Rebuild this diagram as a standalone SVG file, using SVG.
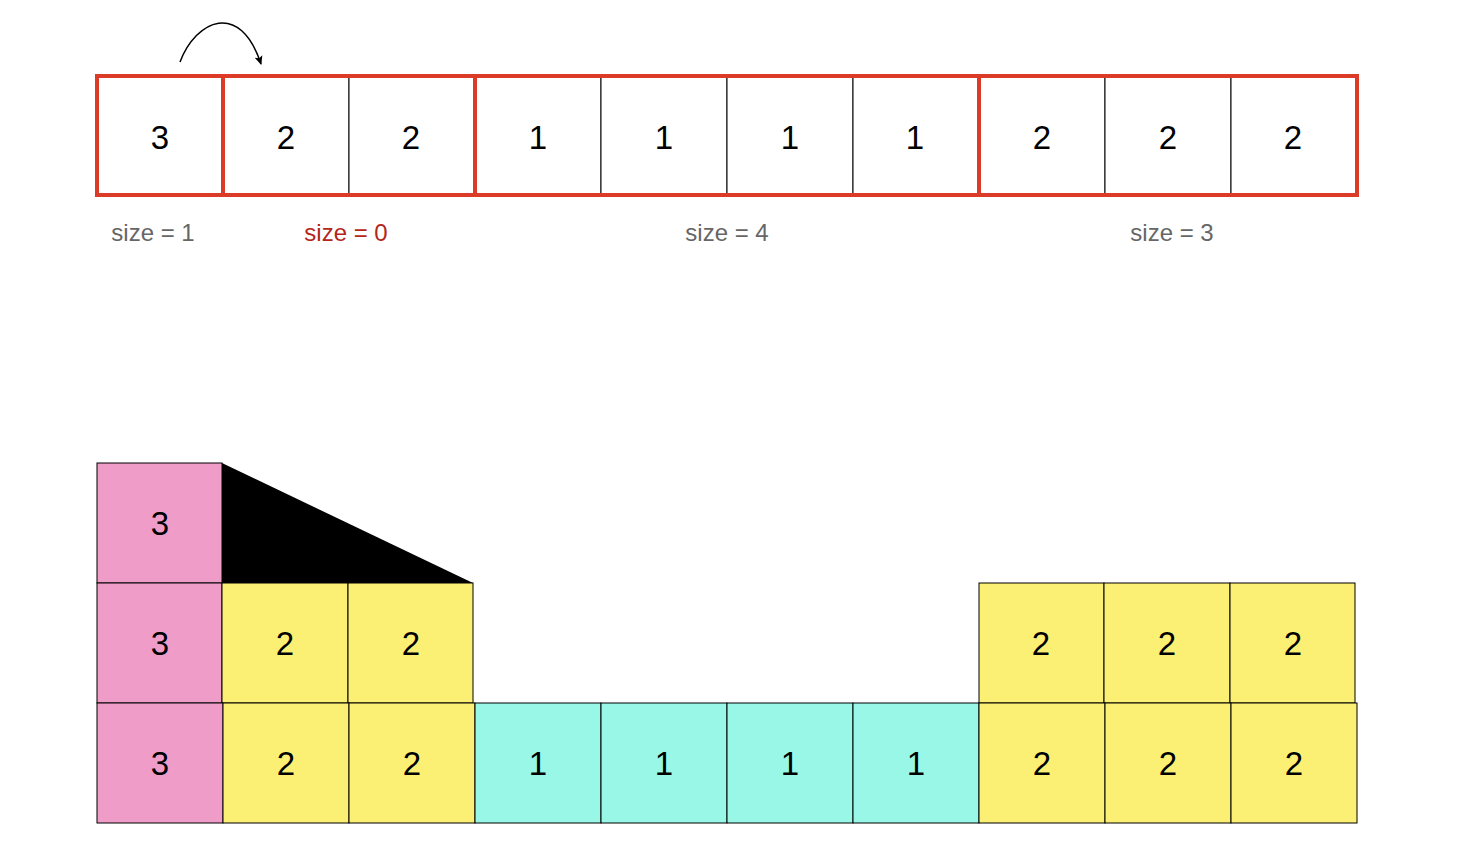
<svg xmlns="http://www.w3.org/2000/svg" width="1476" height="862" viewBox="0 0 1476 862">
<style>
.cell{fill:#ffffff;stroke:#000;stroke-width:1}
.grp{fill:none;stroke:#db3b27;stroke-width:4}
.pink{fill:#f09cc8;stroke:#000;stroke-width:1}
.yel{fill:#fbf073;stroke:#000;stroke-width:1}
.cyan{fill:#99f7e8;stroke:#000;stroke-width:1}
.num{font-family:"Liberation Sans",Arial,sans-serif;font-size:33px;fill:#000;text-anchor:middle;dominant-baseline:central}
.lbl{font-family:"Liberation Sans",Arial,sans-serif;font-size:24px;fill:#666;text-anchor:middle;dominant-baseline:central}
.red{fill:#b3261a}
</style>
<defs>
<marker id="ah" markerWidth="10" markerHeight="10" refX="8" refY="5" orient="auto" markerUnits="userSpaceOnUse">
<path d="M0,1 L9,5 L0,9 L2,5 Z" fill="#000"/>
</marker>
</defs>
<g id="top-cells">
<g id="t0"><rect class="cell" x="97" y="76" width="126" height="119"/><text class="num" x="160" y="137">3</text></g>
<g id="t1"><rect class="cell" x="223" y="76" width="126" height="119"/><text class="num" x="286" y="137">2</text></g>
<g id="t2"><rect class="cell" x="349" y="76" width="126" height="119"/><text class="num" x="411" y="137">2</text></g>
<g id="t3"><rect class="cell" x="475" y="76" width="126" height="119"/><text class="num" x="538" y="137">1</text></g>
<g id="t4"><rect class="cell" x="601" y="76" width="126" height="119"/><text class="num" x="664" y="137">1</text></g>
<g id="t5"><rect class="cell" x="727" y="76" width="126" height="119"/><text class="num" x="790" y="137">1</text></g>
<g id="t6"><rect class="cell" x="853" y="76" width="126" height="119"/><text class="num" x="915" y="137">1</text></g>
<g id="t7"><rect class="cell" x="979" y="76" width="126" height="119"/><text class="num" x="1042" y="137">2</text></g>
<g id="t8"><rect class="cell" x="1105" y="76" width="126" height="119"/><text class="num" x="1168" y="137">2</text></g>
<g id="t9"><rect class="cell" x="1231" y="76" width="126" height="119"/><text class="num" x="1293" y="137">2</text></g>
</g>
<g id="groups">
<rect class="grp" x="97" y="76" width="126" height="119"/>
<rect class="grp" x="223" y="76" width="252" height="119"/>
<rect class="grp" x="475" y="76" width="504" height="119"/>
<rect class="grp" x="979" y="76" width="378" height="119"/>
</g>
<g id="labels">
<text class="lbl" x="153" y="232">size = 1</text>
<text class="lbl red" x="346" y="232">size = 0</text>
<text class="lbl" x="727" y="232">size = 4</text>
<text class="lbl" x="1172" y="232">size = 3</text>
</g>
<g id="connectors">
<path d="M180,62 C196,20 240,0 261,64" fill="none" stroke="#000" stroke-width="1.5" marker-end="url(#ah)"/>
</g>
<g id="bottom">
<g id="b-p2"><rect class="pink" x="97" y="463" width="125" height="120"/><text class="num" x="160" y="523">3</text></g>
<polygon id="triangle" points="222,463 222,583 473,583" fill="#000"/>
<g id="b-p1"><rect class="pink" x="97" y="583" width="125" height="120"/><text class="num" x="160" y="643">3</text></g>
<g id="b-y1a"><rect class="yel" x="222" y="583" width="126" height="120"/><text class="num" x="285" y="643">2</text></g>
<g id="b-y1b"><rect class="yel" x="348" y="583" width="125" height="120"/><text class="num" x="411" y="643">2</text></g>
<g id="b-y1c"><rect class="yel" x="979" y="583" width="125" height="120"/><text class="num" x="1041" y="643">2</text></g>
<g id="b-y1d"><rect class="yel" x="1104" y="583" width="126" height="120"/><text class="num" x="1167" y="643">2</text></g>
<g id="b-y1e"><rect class="yel" x="1230" y="583" width="125" height="120"/><text class="num" x="1293" y="643">2</text></g>
<g id="b-p0"><rect class="pink" x="97" y="703" width="126" height="120"/><text class="num" x="160" y="763">3</text></g>
<g id="b-y0a"><rect class="yel" x="223" y="703" width="126" height="120"/><text class="num" x="286" y="763">2</text></g>
<g id="b-y0b"><rect class="yel" x="349" y="703" width="126" height="120"/><text class="num" x="412" y="763">2</text></g>
<g id="b-c0"><rect class="cyan" x="475" y="703" width="126" height="120"/><text class="num" x="538" y="763">1</text></g>
<g id="b-c1"><rect class="cyan" x="601" y="703" width="126" height="120"/><text class="num" x="664" y="763">1</text></g>
<g id="b-c2"><rect class="cyan" x="727" y="703" width="126" height="120"/><text class="num" x="790" y="763">1</text></g>
<g id="b-c3"><rect class="cyan" x="853" y="703" width="126" height="120"/><text class="num" x="916" y="763">1</text></g>
<g id="b-y0c"><rect class="yel" x="979" y="703" width="126" height="120"/><text class="num" x="1042" y="763">2</text></g>
<g id="b-y0d"><rect class="yel" x="1105" y="703" width="126" height="120"/><text class="num" x="1168" y="763">2</text></g>
<g id="b-y0e"><rect class="yel" x="1231" y="703" width="126" height="120"/><text class="num" x="1294" y="763">2</text></g>
</g>
</svg>
